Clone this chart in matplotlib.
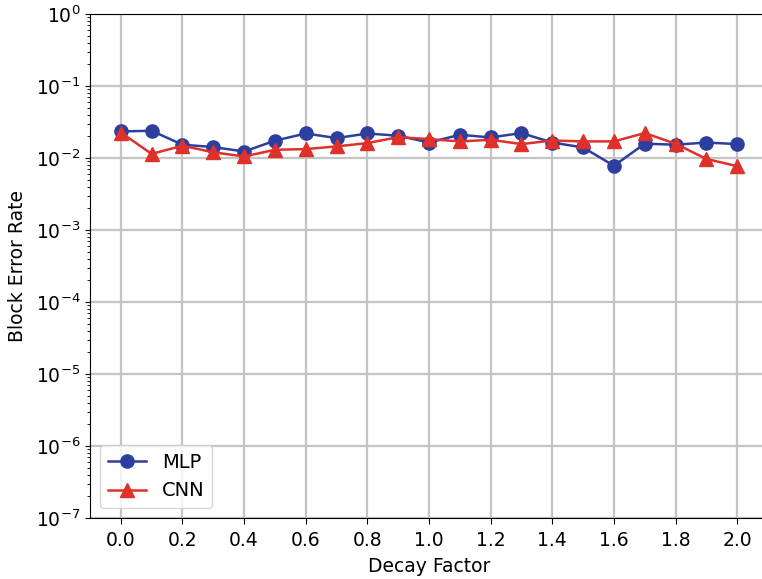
import matplotlib
matplotlib.use('Agg')
import matplotlib.pyplot as plt
import numpy as np

decay = [0.0, 0.1, 0.2, 0.3, 0.4, 0.5, 0.6, 0.7, 0.8, 0.9, 1.0,
         1.1, 1.2, 1.3, 1.4, 1.5, 1.6, 1.7, 1.8, 1.9, 2.0]
mlp = [0.0234, 0.0239, 0.0153, 0.0142, 0.0123, 0.0174, 0.0219, 0.0189,
       0.0219, 0.0204, 0.0164, 0.0210, 0.0193, 0.0222, 0.0164, 0.0140,
       0.0078, 0.0158, 0.0153, 0.0164, 0.0156]
cnn = [0.0226, 0.0114, 0.0148, 0.0120, 0.0105, 0.0130, 0.0133, 0.0145,
       0.0161, 0.0195, 0.0183, 0.0170, 0.0179, 0.0156, 0.0175, 0.0170,
       0.0170, 0.0222, 0.0158, 0.0097, 0.0077]
xticks = [0.0, 0.2, 0.4, 0.6, 0.8, 1.0, 1.2, 1.4, 1.6, 1.8, 2.0]

plt.rcParams['font.size'] = 13.5
fig = plt.figure(figsize=(7.62, 5.79), dpi=100)
ax = fig.add_axes([90/762, 61/579, 678/762, 504/579])

ax.plot(decay, mlp, '-o', color='#2c3f9f', lw=1.8, ms=9.5, label='MLP')
ax.plot(decay, cnn, '-^', color='#e0302a', lw=1.8, ms=9.5, label='CNN')

ax.set_yscale('log')
ax.set_ylim(1e-7, 1)
ax.set_xlim(-0.1, 2.1)
ax.set_xticks(xticks)
ax.set_xticklabels(['%.1f' % t for t in xticks])
ax.spines['right'].set_visible(False)
ax.grid(True, which='major', color='#c4c4c4', lw=1.6)
ax.set_axisbelow(True)
ax.tick_params(labelsize=13.5)
ax.tick_params(axis='x', which='major', length=4.5, pad=5)
ax.set_xlabel('Decay Factor', labelpad=5)
ax.set_ylabel('Block Error Rate', labelpad=6)
ax.legend(loc='lower left', fontsize=14)

fig.savefig('out.png', dpi=100)
